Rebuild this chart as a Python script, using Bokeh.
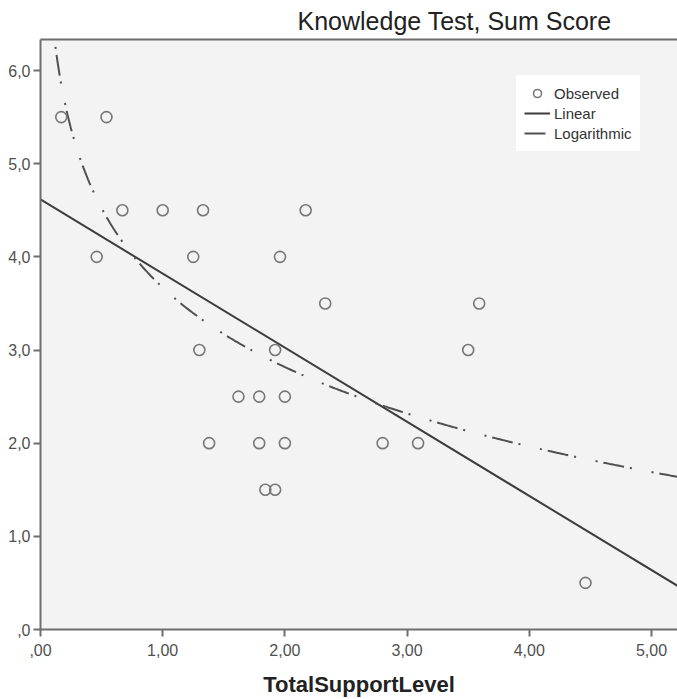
import numpy as np
from bokeh.plotting import figure
from bokeh.models import Range1d, FixedTicker, LinearAxis, Legend, LegendItem, Title
from bokeh.embed import file_html
from bokeh.resources import INLINE

# Observed data (TotalSupportLevel vs Knowledge Test sum score)
support = [0.17, 0.54, 0.46, 0.67, 1.00, 1.25, 1.33, 1.30, 1.38, 1.62, 1.79, 1.79, 1.84,
           1.92, 1.92, 1.96, 2.00, 2.00, 2.17, 2.33, 2.80, 3.09, 3.50, 3.59, 4.46]
score = [5.5, 5.5, 4.0, 4.5, 4.5, 4.0, 4.5, 3.0, 2.0, 2.5, 2.5, 2.0, 1.5,
         1.5, 3.0, 4.0, 2.5, 2.0, 4.5, 3.5, 2.0, 2.0, 3.0, 3.5, 0.5]

# Fitted models
linear_coef = [4.616, -0.7955]   # intercept, slope
log_coef = [3.67, -1.23]         # a + b*ln(x)

x_ticks = [0, 1, 2, 3, 4, 5]
x_tick_labels = [",00", "1,00", "2,00", "3,00", "4,00", "5,00"]
y_ticks = [0, 1, 2, 3, 4, 5, 6]
y_tick_labels = [",0", "1,0", "2,0", "3,0", "4,0", "5,0", "6,0"]

X_MAX = 5.213
Y_MAX = 6.333
FONT = "Liberation Sans"

p = figure(width=677, height=699, output_backend="svg", toolbar_location=None,
           x_range=Range1d(0, X_MAX), y_range=Range1d(0, Y_MAX),
           min_border_left=40, min_border_right=0, min_border_top=0, min_border_bottom=10)
p.background_fill_color = "#f3f3f3"
p.border_fill_color = "white"
p.outline_line_color = None
p.xgrid.visible = False
p.ygrid.visible = False

# axes
for ax, ticks, labels in ((p.xaxis[0], x_ticks, x_tick_labels), (p.yaxis[0], y_ticks, y_tick_labels)):
    ax.ticker = FixedTicker(ticks=ticks)
    ax.major_label_overrides = {t: l for t, l in zip(ticks, labels)}
    ax.axis_line_color = "#6e6e6e"
    ax.axis_line_width = 2
    ax.major_tick_line_color = "#6e6e6e"
    ax.major_tick_line_width = 2
    ax.major_tick_out = 7
    ax.major_tick_in = 0
    ax.minor_tick_line_color = None
    ax.major_label_text_font = FONT
    ax.major_label_text_font_size = "16px"
    ax.major_label_text_color = "#505050"
    ax.major_label_standoff = 3

p.xaxis.major_label_standoff = 7
p.xaxis.axis_label = "TotalSupportLevel"
p.xaxis.axis_label_text_font = FONT
p.xaxis.axis_label_text_font_size = "22px"
p.xaxis.axis_label_text_font_style = "bold"
p.xaxis.axis_label_text_color = "#222222"
p.xaxis.axis_label_standoff = 13

# top border line
top = LinearAxis(ticker=FixedTicker(ticks=[]), axis_line_color="#6e6e6e", axis_line_width=2,
                 major_tick_line_color=None, minor_tick_line_color=None,
                 major_label_text_font_size="0px", major_label_standoff=0)
p.add_layout(top, "above")

p.add_layout(Title(text="Knowledge Test, Sum Score", align="left", offset=257,
                   text_font=FONT, text_font_size="25px", text_font_style="normal",
                   text_color="#222222", standoff=9), "above")

# fits
xs_lin = np.array([0.0, X_MAX])
ys_lin = linear_coef[0] + linear_coef[1] * xs_lin
r_lin = p.line(xs_lin, ys_lin, line_color="#3c3c3c", line_width=2)

xs_log = np.linspace(0.08, X_MAX, 400)
ys_log = log_coef[0] + log_coef[1] * np.log(xs_log)
r_log = p.line(xs_log, ys_log, line_color="#505050", line_width=2, line_dash="21 6 2 20 2 6")

r_obs = p.scatter(support, score, marker="circle", size=11, fill_color=None,
                  line_color="#777777", line_width=1.6)

legend = Legend(items=[LegendItem(label="Observed", renderers=[r_obs]),
                       LegendItem(label="Linear", renderers=[r_lin]),
                       LegendItem(label="Logarithmic", renderers=[r_log])],
                location=(476, 478), background_fill_color="white", background_fill_alpha=1.0,
                border_line_color="white", border_line_alpha=1.0, padding=7, margin=0, spacing=0,
                glyph_width=26, glyph_height=20, label_height=20, label_standoff=4,
                label_text_font=FONT, label_text_font_size="15px", label_text_color="#333333")
p.add_layout(legend, "center")

open("out.html", "w").write(file_html(p, INLINE))
